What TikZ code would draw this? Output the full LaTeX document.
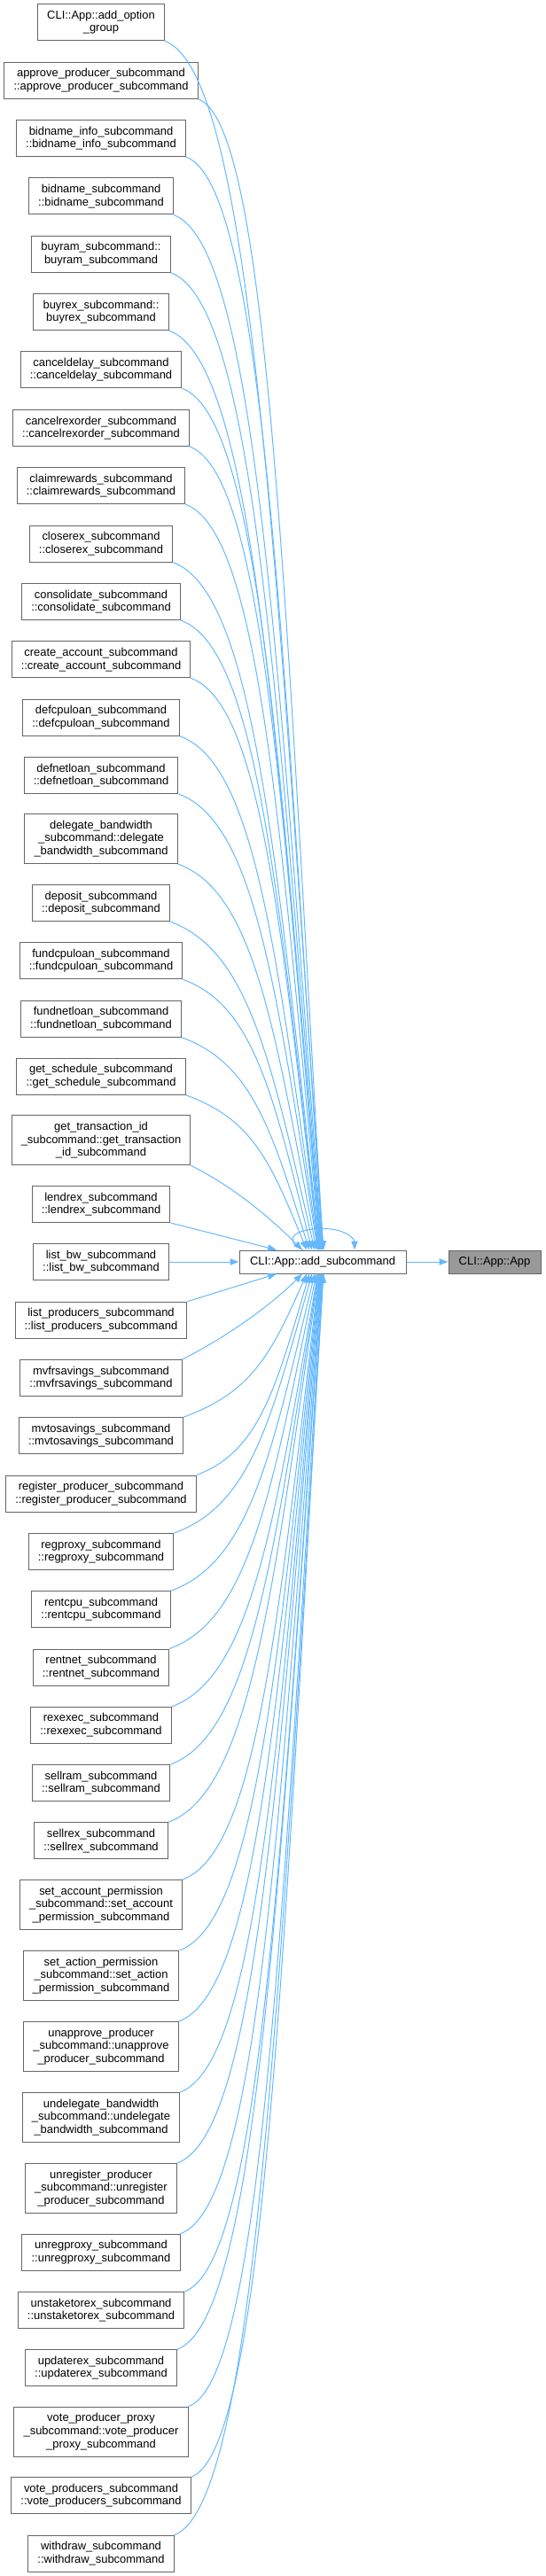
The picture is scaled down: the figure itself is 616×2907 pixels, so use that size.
\documentclass[tikz,border=0pt]{standalone}
\usepackage{fontspec}
\setmainfont{Liberation Sans}
\usepackage{xcolor}
\usetikzlibrary{calc,arrows.meta}
\definecolor{callblue}{HTML}{63B8FF}
\definecolor{boxline}{HTML}{666666}
\definecolor{boxfill}{HTML}{999999}
\tikzstyle{every picture}=[->,>={Triangle[length=7.5pt,width=5.5pt]}]
\tikzstyle{fn}=[rectangle,draw=boxline,fill=white,line width=0.75pt,align=center,inner xsep=8pt,inner ysep=1pt,minimum height=30.75pt,font=\fontsize{9.7}{11}\selectfont]
\tikzstyle{fnthree}=[fn,minimum height=42pt]
\tikzstyle{fnone}=[fn,minimum height=19.5pt]
\tikzstyle{call}=[draw=callblue,line width=0.75pt]

\begin{document}
\begin{tikzpicture}[x=0.75pt,y=-0.75pt]
    \useasboundingbox (0,0) rectangle (616,2907);

    % Target functions
    \node[fnone,minimum width=141pt] (add) at (364,1424) {CLI::App::add\_subcommand};
    \node[fnone,fill=boxfill,minimum width=78pt] (app) at (558,1424) {CLI::App::App};

    % Callers
    \node[fn] (optgroup) at (114,25.3) {CLI::App::add\_option\\\_group};
    \node[fn] (approve) at (114,90.8) {approve\_producer\_subcommand\\::approve\_producer\_subcommand};
    \node[fn] (bidinfo) at (114,156.2) {bidname\_info\_subcommand\\::bidname\_info\_subcommand};
    \node[fn] (bidname) at (114,221.5) {bidname\_subcommand\\::bidname\_subcommand};
    \node[fn] (buyram) at (114,286.8) {buyram\_subcommand::\\buyram\_subcommand};
    \node[fn] (buyrex) at (114,352) {buyrex\_subcommand::\\buyrex\_subcommand};
    \node[fn] (canceldelay) at (114,417.3) {canceldelay\_subcommand\\::canceldelay\_subcommand};
    \node[fn] (cancelrex) at (114,483) {cancelrexorder\_subcommand\\::cancelrexorder\_subcommand};
    \node[fn] (claim) at (114,548.2) {claimrewards\_subcommand\\::claimrewards\_subcommand};
    \node[fn] (closerex) at (114,613.7) {closerex\_subcommand\\::closerex\_subcommand};
    \node[fn] (consolidate) at (114,679) {consolidate\_subcommand\\::consolidate\_subcommand};
    \node[fn] (createacct) at (114,744.3) {create\_account\_subcommand\\::create\_account\_subcommand};
    \node[fn] (defcpu) at (114,809.7) {defcpuloan\_subcommand\\::defcpuloan\_subcommand};
    \node[fn] (defnet) at (114,875) {defnetloan\_subcommand\\::defnetloan\_subcommand};
    \node[fnthree] (delegate) at (114,946.5) {delegate\_bandwidth\\\_subcommand::delegate\\\_bandwidth\_subcommand};
    \node[fn] (deposit) at (114,1019) {deposit\_subcommand\\::deposit\_subcommand};
    \node[fn] (fundcpu) at (114,1084.3) {fundcpuloan\_subcommand\\::fundcpuloan\_subcommand};
    \node[fn] (fundnet) at (114,1149.7) {fundnetloan\_subcommand\\::fundnetloan\_subcommand};
    \node[fn] (getsched) at (114,1214.8) {get\_schedule\_subcommand\\::get\_schedule\_subcommand};
    \node[fnthree] (gettrx) at (114,1286.8) {get\_transaction\_id\\\_subcommand::get\_transaction\\\_id\_subcommand};
    \node[fn] (lendrex) at (114,1359) {lendrex\_subcommand\\::lendrex\_subcommand};
    \node[fn] (listbw) at (114,1424) {list\_bw\_subcommand\\::list\_bw\_subcommand};
    \node[fn] (listprod) at (114,1489.7) {list\_producers\_subcommand\\::list\_producers\_subcommand};
    \node[fn] (mvfr) at (114,1555) {mvfrsavings\_subcommand\\::mvfrsavings\_subcommand};
    \node[fn] (mvto) at (114,1620.2) {mvtosavings\_subcommand\\::mvtosavings\_subcommand};
    \node[fn] (regprod) at (114,1685.5) {register\_producer\_subcommand\\::register\_producer\_subcommand};
    \node[fn] (regproxy) at (114,1751) {regproxy\_subcommand\\::regproxy\_subcommand};
    \node[fn] (rentcpu) at (114,1816.2) {rentcpu\_subcommand\\::rentcpu\_subcommand};
    \node[fn] (rentnet) at (114,1881.5) {rentnet\_subcommand\\::rentnet\_subcommand};
    \node[fn] (rexexec) at (114,1946.8) {rexexec\_subcommand\\::rexexec\_subcommand};
    \node[fn] (sellram) at (114,2012.2) {sellram\_subcommand\\::sellram\_subcommand};
    \node[fn] (sellrex) at (114,2077.3) {sellrex\_subcommand\\::sellrex\_subcommand};
    \node[fnthree] (setacct) at (114,2149.5) {set\_account\_permission\\\_subcommand::set\_account\\\_permission\_subcommand};
    \node[fnthree] (setaction) at (114,2229.5) {set\_action\_permission\\\_subcommand::set\_action\\\_permission\_subcommand};
    \node[fnthree] (unapprove) at (114,2309.5) {unapprove\_producer\\\_subcommand::unapprove\\\_producer\_subcommand};
    \node[fnthree] (undelegate) at (114,2389.5) {undelegate\_bandwidth\\\_subcommand::undelegate\\\_bandwidth\_subcommand};
    \node[fnthree] (unregprod) at (114,2469.5) {unregister\_producer\\\_subcommand::unregister\\\_producer\_subcommand};
    \node[fn] (unregproxy) at (114,2541.7) {unregproxy\_subcommand\\::unregproxy\_subcommand};
    \node[fn] (unstake) at (114,2607) {unstaketorex\_subcommand\\::unstaketorex\_subcommand};
    \node[fn] (updaterex) at (114,2672.2) {updaterex\_subcommand\\::updaterex\_subcommand};
    \node[fnthree] (voteproxy) at (114,2744.2) {vote\_producer\_proxy\\\_subcommand::vote\_producer\\\_proxy\_subcommand};
    \node[fn] (voteprod) at (114,2816.2) {vote\_producers\_subcommand\\::vote\_producers\_subcommand};
    \node[fn] (withdraw) at (114,2881.7) {withdraw\_subcommand\\::withdraw\_subcommand};

    % Calls from above
    \draw[call] (optgroup.south east) .. controls +(98,36) and +(-54,-778) .. ($(add.north)+(1,0)$);
    \draw[call] (approve.south east) .. controls +(78,28) and +(-43,-741) .. ($(add.north)+(0.5,0)$);
    \draw[call] (bidinfo.south east) .. controls +(85,31) and +(-46,-704) .. (add.north);
    \draw[call] (bidname.south east) .. controls +(92,34) and +(-50,-666) .. ($(add.north)+(-0.5,0)$);
    \draw[call] (buyram.south east) .. controls +(94,34) and +(-51,-629) .. ($(add.north)+(-1,0)$);
    \draw[call] (buyrex.south east) .. controls +(94,34) and +(-52,-592) .. ($(add.north)+(-1.5,0)$);
    \draw[call] (canceldelay.south east) .. controls +(86,31) and +(-47,-555) .. ($(add.north)+(-2,0)$);
    \draw[call] (cancelrex.south east) .. controls +(81,30) and +(-44,-517) .. ($(add.north)+(-2.5,0)$);
    \draw[call] (claim.south east) .. controls +(83,30) and +(-45,-480) .. ($(add.north)+(-3,0)$);
    \draw[call] (closerex.south east) .. controls +(91,33) and +(-49,-443) .. ($(add.north)+(-3.5,0)$);
    \draw[call] (consolidate.south east) .. controls +(86,31) and +(-47,-406) .. ($(add.north)+(-4,0)$);
    \draw[call] (createacct.south east) .. controls +(79,29) and +(-43,-368) .. ($(add.north)+(-4.5,0)$);
    \draw[call] (defcpu.south east) .. controls +(86,31) and +(-47,-331) .. ($(add.north)+(-5,0)$);
    \draw[call] (defnet.south east) .. controls +(86,31) and +(-47,-294) .. ($(add.north)+(-5.5,0)$);
    \draw[call] (delegate.south east) .. controls +(86,31) and +(-47,-249) .. ($(add.north)+(-7,0)$);
    \draw[call] (deposit.south east) .. controls +(89,33) and +(-49,-212) .. ($(add.north)+(-9,0)$);
    \draw[call] (fundcpu.south east) .. controls +(80,29) and +(-44,-175) .. ($(add.north)+(-12,0)$);
    \draw[call] (fundnet.south east) .. controls +(79,29) and +(-43,-137) .. ($(add.north)+(-15,0)$);
    \draw[call] (getsched.south east) .. controls +(75,27) and +(-41,-100) .. ($(add.north)+(-18,0)$);
    \draw[call] (gettrx.south east) .. controls +(50,25) and +(-35,-35) .. ($(add.north)+(-23,0)$);

    % Calls from the side
    \draw[call] (lendrex.south east) -- ($(add.north)+(-52,0)$);
    \draw[call] (listbw) -- (add);
    \draw[call] (listprod.north east) -- ($(add.south)+(-52,0)$);

    % Calls from below
    \draw[call] (mvfr.north east) .. controls +(50,-25) and +(-35,35) .. ($(add.south)+(-23,0)$);
    \draw[call] (mvto.north east) .. controls +(76,-28) and +(-41,93) .. ($(add.south)+(-18,0)$);
    \draw[call] (regprod.north east) .. controls +(70,-26) and +(-38,130) .. ($(add.south)+(-15,0)$);
    \draw[call] (regproxy.north east) .. controls +(86,-31) and +(-47,167) .. ($(add.south)+(-12,0)$);
    \draw[call] (rentcpu.north east) .. controls +(89,-32) and +(-49,204) .. ($(add.south)+(-9,0)$);
    \draw[call] (rentnet.north east) .. controls +(91,-33) and +(-50,242) .. ($(add.south)+(-7,0)$);
    \draw[call] (rexexec.north east) .. controls +(90,-33) and +(-49,279) .. ($(add.south)+(-5.5,0)$);
    \draw[call] (sellram.north east) .. controls +(91,-33) and +(-50,316) .. ($(add.south)+(-5,0)$);
    \draw[call] (sellrex.north east) .. controls +(93,-34) and +(-51,353) .. ($(add.south)+(-4.5,0)$);
    \draw[call] (setacct.north east) .. controls +(84,-31) and +(-46,390) .. ($(add.south)+(-4,0)$);
    \draw[call] (setaction.north east) .. controls +(87,-32) and +(-47,436) .. ($(add.south)+(-3.5,0)$);
    \draw[call] (unapprove.north east) .. controls +(88,-32) and +(-48,481) .. ($(add.south)+(-3,0)$);
    \draw[call] (undelegate.north east) .. controls +(87,-32) and +(-48,527) .. ($(add.south)+(-2.5,0)$);
    \draw[call] (unregprod.north east) .. controls +(89,-32) and +(-49,573) .. ($(add.south)+(-2,0)$);
    \draw[call] (unregproxy.north east) .. controls +(88,-32) and +(-48,618) .. ($(add.south)+(-1.5,0)$);
    \draw[call] (unstake.north east) .. controls +(85,-31) and +(-46,655) .. ($(add.south)+(-1,0)$);
    \draw[call] (updaterex.north east) .. controls +(90,-33) and +(-49,692) .. ($(add.south)+(-0.5,0)$);
    \draw[call] (voteproxy.north east) .. controls +(83,-30) and +(-46,729) .. (add.south);
    \draw[call] (voteprod.north east) .. controls +(82,-30) and +(-45,774) .. ($(add.south)+(0.5,0)$);
    \draw[call] (withdraw.north east) .. controls +(92,-34) and +(-50,812) .. ($(add.south)+(1,0)$);

    % Recursive call and callee
    \draw[call] ($(add.north)+(-22,0)$) .. controls +(-20,-8) and +(-40,0) .. ($(add.north)+(1,-24)$)
        .. controls +(25,0) and +(0,-12) .. ($(add.north)+(36,0)$);
    \draw[call] (add) -- (app);
\end{tikzpicture}
\end{document}
